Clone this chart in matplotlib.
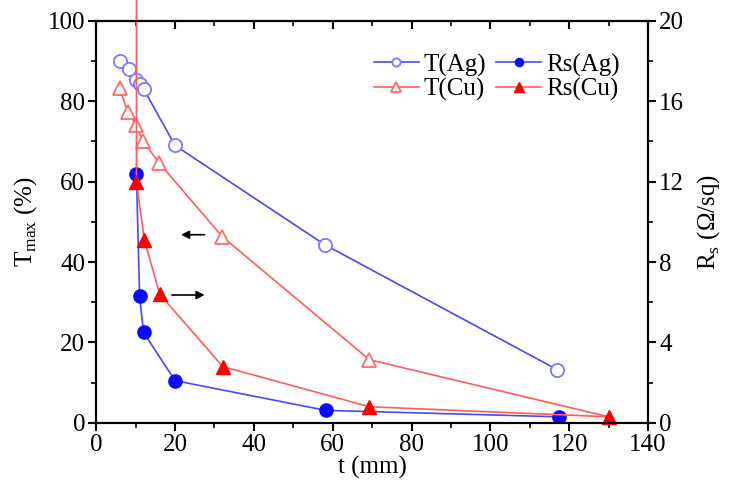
import matplotlib
matplotlib.use("Agg")
import matplotlib.pyplot as plt
import numpy as np

plt.rcParams['font.family'] = ['Liberation Serif', 'DejaVu Serif']
plt.rcParams['mathtext.fontset'] = 'custom'
plt.rcParams['mathtext.rm'] = 'Liberation Serif'

# transmittance (%) vs thickness t (mm)
t_ag = [6, 8.2, 10.2, 11.2, 12, 20, 58, 117]
T_ag = [90, 88, 85.3, 84.3, 83.1, 69, 44.3, 13.2]
t_cu = [6, 8, 10.1, 11.8, 16, 32, 69.3, 130]
T_cu = [83.2, 77.3, 74.1, 70.2, 64.6, 46.3, 15.7, 1.5]

# sheet resistance (ohm/sq) vs t (mm)
rs_t_ag = [10.2, 11, 12, 20, 58.2, 117.3]
Rs_ag = [12.4, 6.3, 4.5, 2.1, 0.62, 0.3]
rs_t_cu = [10.2, 10.2, 12.2, 16.1, 32.1, 69.3, 130]
Rs_cu = [21.1, 12.0, 9.1, 6.4, 2.8, 0.8, 0.3]

fs = 18

fig = plt.figure(figsize=(7.29, 4.86), dpi=100)
ax = fig.add_axes([0.132, 0.130, 0.757, 0.827])
ax2 = ax.twinx()

l1, = ax.plot(t_ag, T_ag, '-o', color='#4a4aee', lw=1.2, ms=9.5, mfc='white',
              mec='#7a7aff', mew=1.3, label='T(Ag)')
l3, = ax.plot(t_cu, T_cu, '-^', color='#ff5c5c', lw=1.2, ms=10.5, mfc='white',
              mec='#ff6a6a', mew=1.3, markevery=slice(0, 7), label='T(Cu)')
l2, = ax2.plot(rs_t_ag, Rs_ag, '-o', color='#4a4aee', lw=1.2, ms=9.5, mfc='#0a0aff',
               mec='#0a0aff', label='Rs(Ag)')
l4, = ax2.plot(rs_t_cu, Rs_cu, '-^', color='#ff5c5c', lw=1.2, ms=10.5, mfc='#ff0000',
               mec='#ff0000', markevery=slice(1, None), clip_on=False, label='Rs(Cu)')

ax.annotate('', xy=(20.8, 46.8), xytext=(28.2, 46.8),
            arrowprops=dict(arrowstyle='-|>', color='black', lw=1.2, mutation_scale=12))
ax.annotate('', xy=(28.2, 31.8), xytext=(18.5, 31.8),
            arrowprops=dict(arrowstyle='-|>', color='black', lw=1.2, mutation_scale=12))

ax.set_xlim(0, 140)
ax.set_ylim(0, 100)
ax2.set_ylim(0, 20)
ax.set_xticks(np.arange(0, 141, 20))
ax.set_xticks(np.arange(10, 140, 20), minor=True)
ax.set_yticks(np.arange(0, 101, 20))
ax.set_yticks(np.arange(10, 100, 20), minor=True)
ax2.set_yticks(np.arange(0, 21, 4))
ax2.set_yticks(np.arange(2, 20, 4), minor=True)

# top axis: ticks pointing inward, no labels
top = ax.secondary_xaxis('top')
top.set_xticks(np.arange(0, 141, 20))
top.set_xticks(np.arange(10, 140, 20), minor=True)
top.tick_params(which='major', direction='in', length=6, width=1.5, labeltop=False)
top.tick_params(which='minor', direction='in', length=3.5, width=1.2)
top.spines['top'].set_linewidth(1.5)

for a in (ax, ax2):
    for s in a.spines.values():
        s.set_linewidth(1.5)
ax.tick_params(axis='both', which='major', labelsize=fs, length=6, width=1.5,
               direction='out', pad=2)
ax.tick_params(axis='both', which='minor', length=3.5, width=1.2, direction='out')
ax2.tick_params(axis='y', which='major', labelsize=fs, length=6, width=1.5,
                direction='out', pad=2)
ax2.tick_params(axis='y', which='minor', length=3.5, width=1.2, direction='out')

ax.set_xlabel('t (mm)', fontsize=fs, labelpad=0)
ax.set_ylabel(r'T$_{\rm max}$ (%)', fontsize=fs, labelpad=6)
ax2.set_ylabel(r'R$_{\rm s}$ ($\Omega$/sq)', fontsize=fs, labelpad=8)

ax2.legend(handles=[l1, l3, l2, l4], ncol=2, loc='upper right',
           bbox_to_anchor=(0.99, 0.975), frameon=False, fontsize=fs,
           markerscale=0.62, handlelength=1.8, handletextpad=0.2,
           columnspacing=0.4, labelspacing=0.05)

fig.savefig('out.png', dpi=100)
